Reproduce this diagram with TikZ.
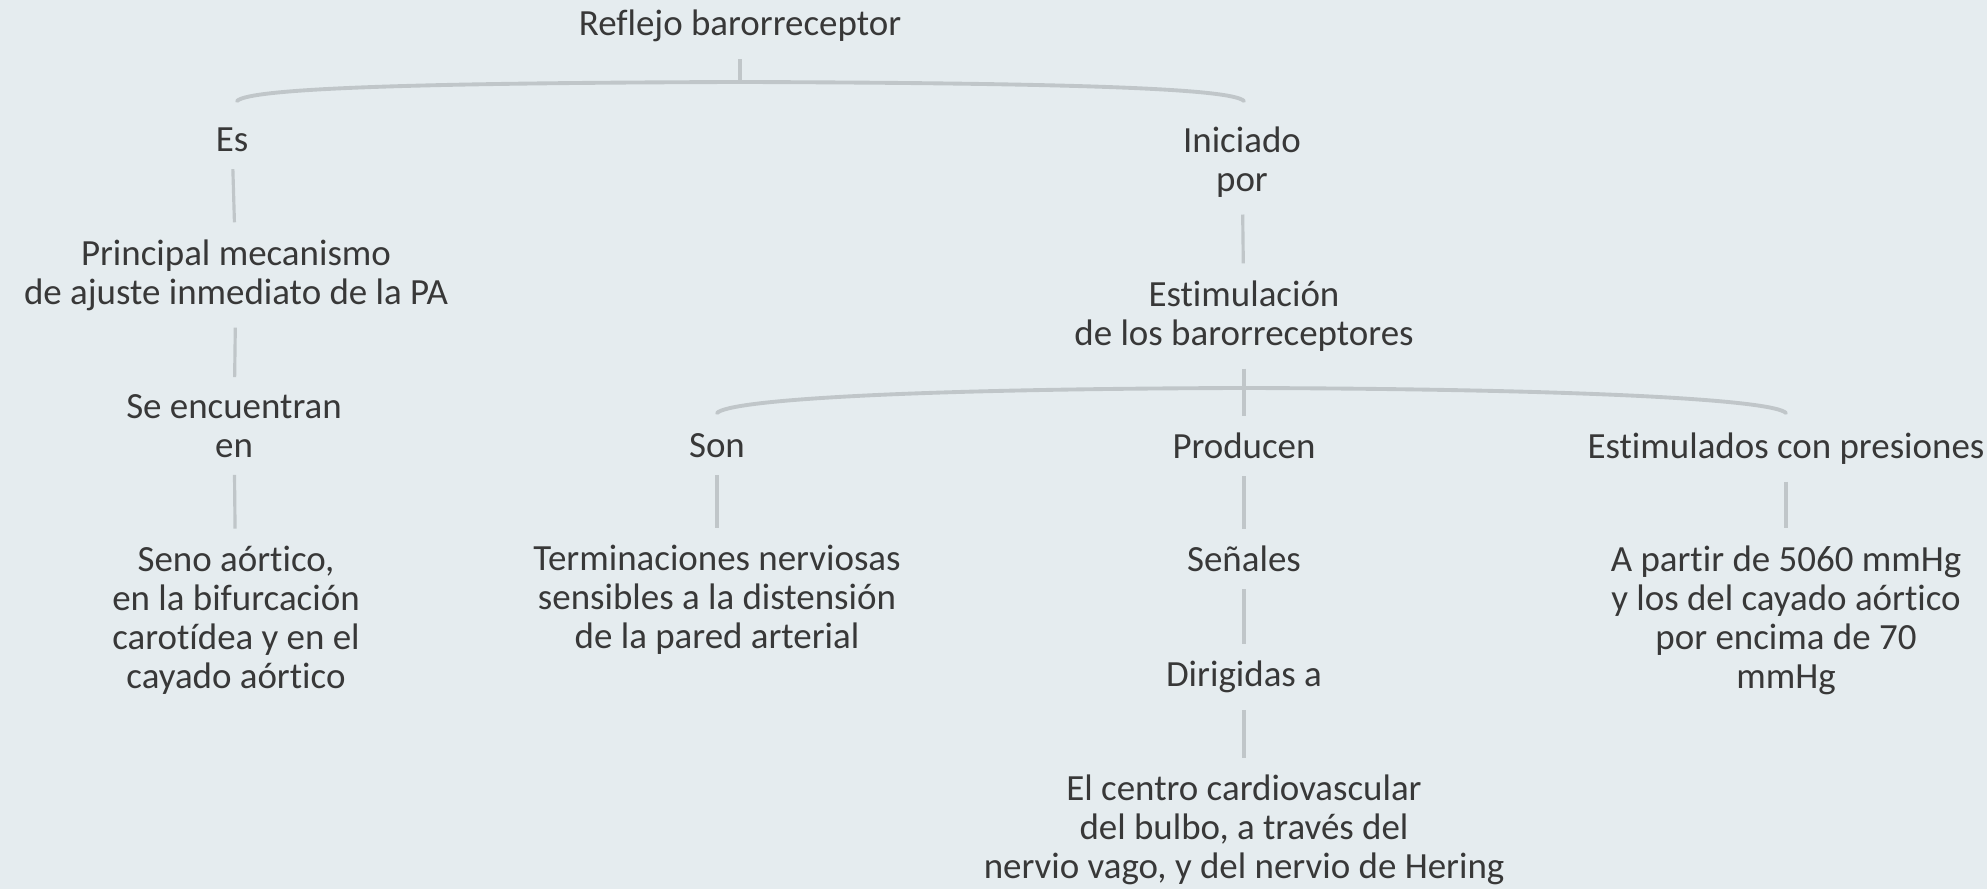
\documentclass[tikz,border=0pt]{standalone}
\usepackage{fontspec}
\setmainfont{Carlito}[Ligatures=NoCommon]
\usetikzlibrary{positioning}

\definecolor{bgcol}{HTML}{E5ECEF}
\definecolor{txtcol}{HTML}{383838}
\definecolor{linecol}{HTML}{C0C6C9}

\tikzset{
  concept/.style={align=center, text=txtcol, inner xsep=0pt, inner ysep=0.165cm,
    font=\fontsize{10.5}{11.1}\selectfont},
  link/.style={draw=linecol, line width=0.9pt},
  brace/.style={draw=linecol, line width=1.1pt, line cap=round}
}

\begin{document}
\begin{tikzpicture}[x=0.01cm, y=-0.01cm]

% Background
\fill[bgcol] (0,0) rectangle (1987,889);
\useasboundingbox (0,0) rectangle (1987,889);

% Root
\node[concept] (title) at (740,26) {Reflejo barorreceptor};

% Left branch
\node[concept] (es) at (232,140) {Es};
\node[concept] (princ) at (236,275) {Principal mecanismo\\de ajuste inmediato de la PA};
\node[concept] (seenc) at (234,426) {Se encuentran\\en};
\node[concept] (seno) at (236,620) {Seno aórtico,\\en la bifurcación\\carotídea y en el\\cayado aórtico};

% Right branch
\node[concept] (inic) at (1242,162) {Iniciado\\por};
\node[concept] (estim) at (1244,316) {Estimulación\\de los barorreceptores};
\node[concept] (son) at (717,446) {Son};
\node[concept] (prod) at (1244,446) {Producen};
\node[concept] (estp) at (1786,449) {Estimulados con presiones};
\node[concept] (term) at (717,600) {Terminaciones nerviosas\\sensibles a la distensión\\de la pared arterial};
\node[concept] (senal) at (1244,559) {Señales};
\node[concept] (dirig) at (1244,677) {Dirigidas a};
\node[concept] (centro) at (1244,830) {El centro cardiovascular\\del bulbo, a través del\\nervio vago, y del nervio de Hering};
\node[concept] (apart) at (1786,620) {A partir de 5060 mmHg\\y los del cayado aórtico\\por encima de 70\\mmHg};

% Brace points
\coordinate (b1l) at (237,101);
\coordinate (b1t) at (740,82);
\coordinate (b1r) at (1244,101);
\coordinate (b2l) at (717,413);
\coordinate (b2t) at (1244,388);
\coordinate (b2r) at (1786,413);

% Braces
\draw[brace] (b1l) .. controls (250,88) and (420,83) .. (b1t) .. controls (1060,83) and (1231,88) .. (b1r);
\draw[brace] (b2l) .. controls (730,400) and (900,389) .. (b2t) .. controls (1590,389) and (1773,400) .. (b2r);

% Links
\draw[link] (title) -- (b1t);
\draw[link] (es) -- (princ);
\draw[link] (princ) -- (seenc);
\draw[link] (seenc) -- (seno);
\draw[link] (inic) -- (estim);
\draw[link] (estim) -- (prod);
\draw[link] (son) -- (term);
\draw[link] (prod) -- (senal);
\draw[link] (senal) -- (dirig);
\draw[link] (dirig) -- (centro);
\draw[link] (estp) -- (apart);

\end{tikzpicture}
\end{document}
